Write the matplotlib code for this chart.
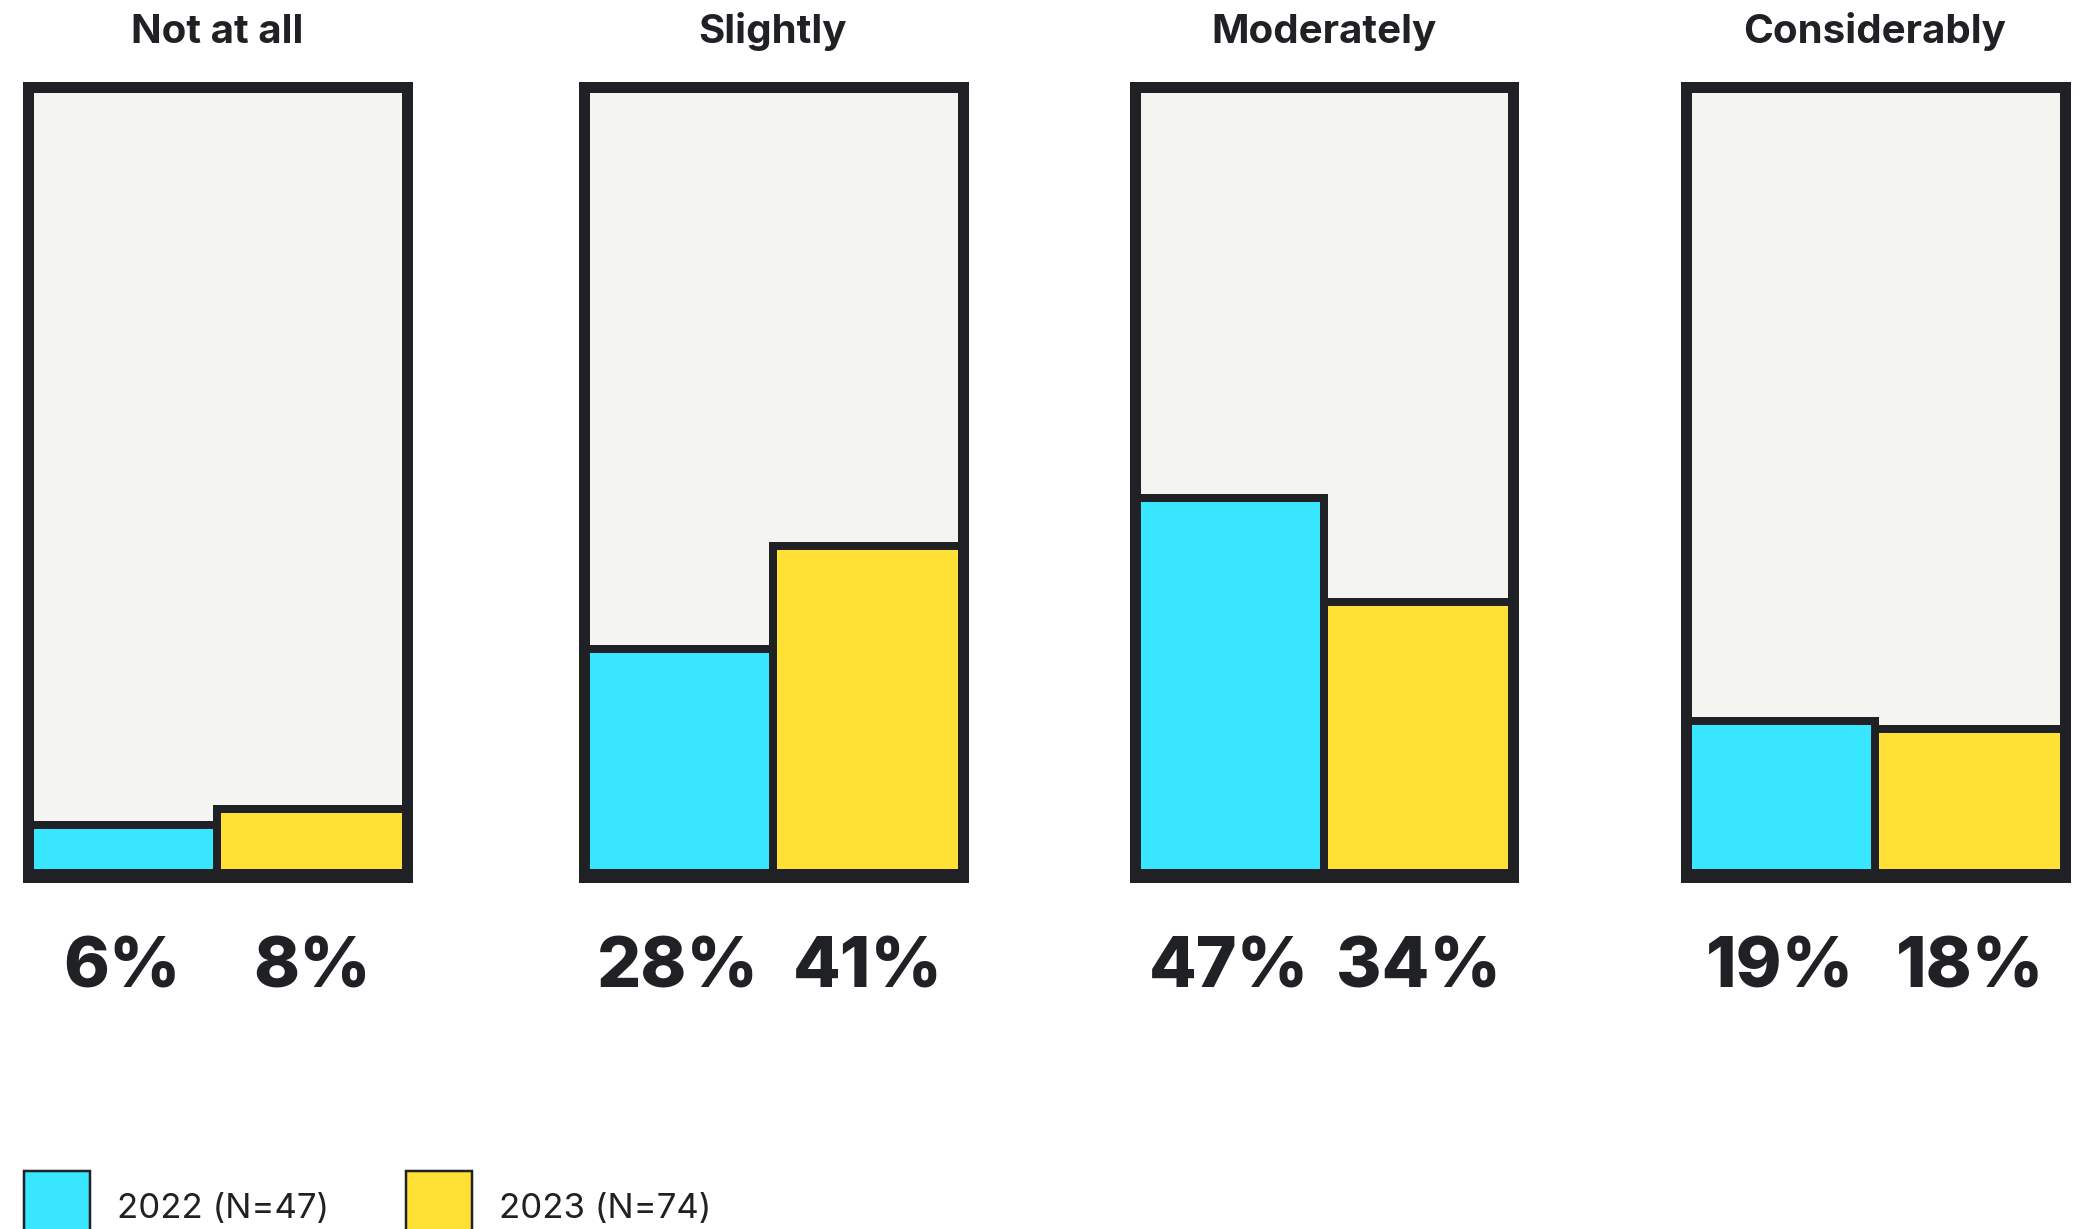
import matplotlib.pyplot as plt
from matplotlib.patches import Rectangle

# survey answers, share of respondents in percent
categories = ["Not at all", "Slightly", "Moderately", "Considerably"]
values_2022 = [6, 28, 47, 19]
values_2023 = [8, 41, 34, 18]
series_labels = ["2022 (N=47)", "2023 (N=74)"]

CYAN = "#38E6FF"
YELLOW = "#FFE135"
DARK = "#202125"
PANEL_BG = "#F4F4F0"

W, H = 2087, 1229
DPI = 100
px = 72 / DPI  # points per pixel

plt.rcParams["font.family"] = ["Inter", "DejaVu Sans"]

fig = plt.figure(figsize=(W / DPI, H / DPI), dpi=DPI)
fig.patch.set_facecolor("white")

panel_left = [22, 578, 1129, 1680]   # outer left edge in px
panel_w = 390
frame_lw = 11   # px
bar_lw = 8      # px
top_out, bot_out = 82, 882

for i, cat in enumerate(categories):
    # axes edges sit on the centre of the frame line
    x0 = panel_left[i] + frame_lw / 2
    x1 = panel_left[i] + panel_w - frame_lw / 2
    y_top = top_out + frame_lw / 2
    y_bot = bot_out - frame_lw / 2
    ax = fig.add_axes([x0 / W, 1 - y_bot / H, (x1 - x0) / W, (y_bot - y_top) / H])
    ax.set_facecolor(PANEL_BG)
    ax.set_xlim(0, 1)
    ax.set_ylim(-0.5, 98.5)

    for x, v, c in [(0.25, values_2022[i], CYAN), (0.75, values_2023[i], YELLOW)]:
        ax.bar(x, v, width=0.5, color=c, edgecolor=DARK, linewidth=bar_lw * px,
               joinstyle="miter", zorder=1)
        ax.text(x, -0.1413, f"{v}%", transform=ax.get_xaxis_transform(),
                ha="center", va="baseline", fontsize=50, fontweight="heavy",
                color=DARK, clip_on=False)

    for s in ax.spines.values():
        s.set_linewidth(frame_lw * px)
        s.set_color(DARK)
        s.set_zorder(3)
        s.set_capstyle("projecting")
    ax.set_xticks([])
    ax.set_yticks([])

    fig.text((panel_left[i] + panel_w / 2) / W, 1 - 43 / H, cat,
             ha="center", va="baseline", fontsize=29, fontweight="bold",
             color=DARK)

# legend along the bottom edge
legend_x = [24, 406]
legend_colors = [CYAN, YELLOW]
for lx, c, lab in zip(legend_x, legend_colors, series_labels):
    fig.patches.append(Rectangle((lx / W, 1 - 1240 / H), 66 / W, 69 / H,
                                 transform=fig.transFigure, facecolor=c,
                                 edgecolor=DARK, linewidth=2.5 * px, clip_on=False))
    fig.text((lx + 93) / W, 1 - 1218 / H, lab, ha="left", va="baseline",
             fontsize=25, fontweight="normal", color=DARK)

fig.savefig("out.png", dpi=DPI)
